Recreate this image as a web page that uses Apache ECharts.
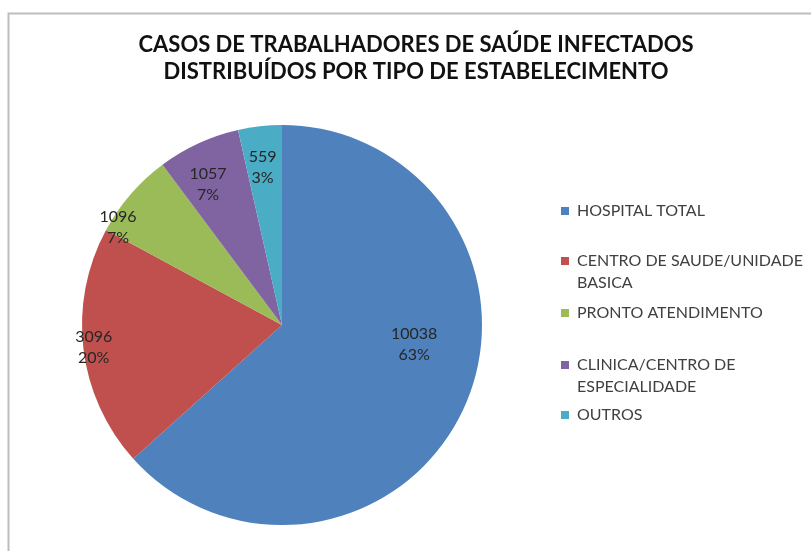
<!DOCTYPE html>
<html>
<head>
<meta charset="utf-8">
<title>Casos de trabalhadores de saúde infectados</title>
<script src="https://cdn.jsdelivr.net/npm/echarts@6/dist/echarts.min.js"></script>
<style>
    html, body {margin: 0; padding: 0; background: #ffffff;}
    #chartBox {width: 811px; height: 551px; overflow: hidden;}
</style>
</head>
<body>
<div id="chartBox"></div>
<script>
// dados do gráfico
let categorias = ['HOSPITAL TOTAL', 'CENTRO DE SAUDE/UNIDADE BASICA', 'PRONTO ATENDIMENTO', 'CLINICA/CENTRO DE ESPECIALIDADE', 'OUTROS'];
let casos = [10038, 3096, 1096, 1057, 559];
let percentuais = ['63%', '20%', '7%', '7%', '3%'];
let cores = ['#4F81BD', '#C0504D', '#9BBB59', '#8064A2', '#4BACC6'];

let fonte = 'Lato, "Open Sans", sans-serif';

// deslocamento dos rótulos (o Excel usa "melhor ajuste")
let ajusteRotulo = {
    'HOSPITAL TOTAL': [38, -23],
    'CENTRO DE SAUDE/UNIDADE BASICA': [-86, 10],
    'PRONTO ATENDIMENTO': [-86, -30],
    'CLINICA/CENTRO DE ESPECIALIDADE': [-31, -47],
    'OUTROS': [-8, -55]
};

// quebras de linha da legenda
let quebraLegenda = {
    'CENTRO DE SAUDE/UNIDADE BASICA': 'CENTRO DE SAUDE/UNIDADE\nBASICA',
    'CLINICA/CENTRO DE ESPECIALIDADE': 'CLINICA/CENTRO DE\nESPECIALIDADE'
};
let topoLegenda = [200, 250, 302, 354, 404];

let chartBox = echarts.init(document.getElementById('chartBox'));

let serieDados = categorias.map(function (nome, i) {
    return {
        name: nome,
        value: casos[i],
        itemStyle: {color: cores[i]},
        label: {offset: ajusteRotulo[nome]}
    };
});

let legendas = categorias.map(function (nome, i) {
    let duasLinhas = !!quebraLegenda[nome];
    return {
        data: [nome],
        left: 561,
        top: topoLegenda[i],
        padding: 0,
        orient: 'vertical',
        selectedMode: false,
        itemGap: 0,
        itemWidth: 8,
        itemHeight: duasLinhas ? 44 : 8,
        // quadrado alinhado com a primeira linha do texto
        icon: duasLinhas ? 'path://M0,0L0.01,0M0,7L8,7L8,15L0,15ZM0,44L0.01,44' : 'rect',
        itemStyle: {borderWidth: 0},
        formatter: function (n) {
            return quebraLegenda[n] || n;
        },
        textStyle: {fontFamily: fonte, fontSize: 16, color: '#404040', lineHeight: 22, padding: [0, 0, 0, 3]}
    };
});

let option = {
    animation: false,
    backgroundColor: '#ffffff',
    title: {
        text: 'CASOS DE TRABALHADORES DE SAÚDE INFECTADOS\nDISTRIBUÍDOS POR TIPO DE ESTABELECIMENTO',
        left: 416,
        top: 31,
        padding: 0,
        textAlign: 'center',
        textStyle: {fontFamily: fonte, fontSize: 22, fontWeight: 'bold', color: '#111111', lineHeight: 27}
    },
    // moldura da área do gráfico
    graphic: [{
        type: 'rect',
        shape: {x: 8.5, y: 13.5, width: 900, height: 600},
        style: {fill: 'none', stroke: '#bdbdbd', lineWidth: 2},
        silent: true
    }],
    legend: legendas,
    series: [{
        type: 'pie',
        center: [282, 325],
        radius: [0, 200],
        startAngle: 90,
        clockwise: true,
        avoidLabelOverlap: false,
        itemStyle: {borderWidth: 0},
        label: {
            show: true,
            position: 'inside',
            fontFamily: fonte,
            fontSize: 16,
            lineHeight: 21,
            color: '#262626',
            formatter: function (p) {
                return p.value + '\n' + percentuais[p.dataIndex];
            }
        },
        labelLine: {show: false},
        emphasis: {disabled: true},
        data: serieDados
    }]
};
chartBox.setOption(option, true);
</script>
</body>
</html>
